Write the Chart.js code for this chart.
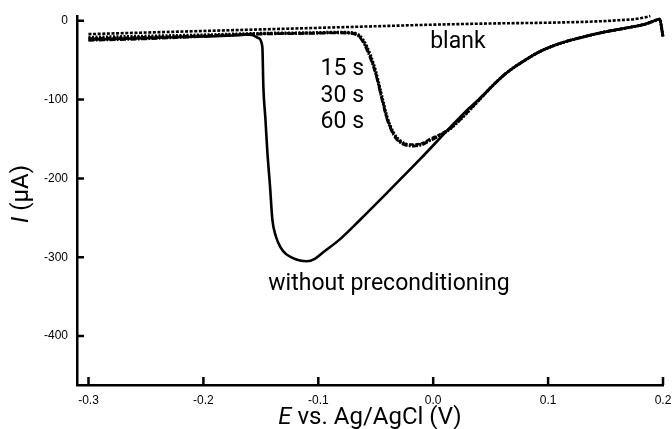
<!DOCTYPE html>
<html>
<head>
<meta charset="utf-8">
<script src="https://cdn.jsdelivr.net/npm/chart.js@4.4.0/dist/chart.umd.min.js"></script>
<style>
  html, body { margin: 0; padding: 0; background: #fff; }
</style>
</head>
<body>
<canvas id="cv" width="672" height="429"></canvas>
<script>
// potential (V) and current (uA)
const noPreE = [-0.300, -0.250, -0.200, -0.170, -0.162, -0.157, -0.152, -0.1487, -0.1478, -0.146, -0.1443, -0.142, -0.140, -0.137, -0.133, -0.128, -0.122, -0.116, -0.110, -0.103, -0.096, -0.081, -0.064, -0.040, -0.011, 0.015, 0.029, 0.041, 0.052, 0.064, 0.080, 0.093, 0.110, 0.128, 0.150, 0.169, 0.185, 0.191, 0.197, 0.200];
const noPreI = [-24, -22, -20, -18.5, -17.5, -18.5, -22, -33, -84, -125, -167, -210, -252, -273, -287, -296, -301, -304, -305, -302, -294, -277, -253, -218, -175, -135, -114, -98, -82, -66, -50, -39, -29, -21.5, -14, -9, -4, -1, 2, -20];

const preE = [-0.300, -0.250, -0.200, -0.150, -0.100, -0.085, -0.072, -0.064, -0.0577, -0.0504, -0.0446, -0.0403, -0.0345, -0.0258, -0.0171, -0.0090, -0.0026, 0.006, 0.0148, 0.0293, 0.041, 0.052, 0.064, 0.080, 0.093, 0.110, 0.128, 0.150, 0.169, 0.185, 0.191, 0.197, 0.200];
const pre15I = [-21, -19.5, -18, -16, -15, -14.5, -15, -19, -33, -62, -96, -121, -142, -155, -158, -156, -151, -145, -137, -117, -99, -82, -66, -50, -39, -29, -21.5, -14, -9, -4, -1, 2, -20];
const pre30I = [-22.5, -21, -19, -16.5, -15.5, -15, -15.5, -20, -35, -64, -98, -123, -143, -156, -157, -155, -150, -144, -136, -116, -99, -82, -66, -50, -39, -29, -21.5, -14, -9, -4, -1, 2, -20];
const pre60I = [-25, -23, -20, -17, -16, -15.5, -16, -21, -37, -66, -100, -124, -145, -157, -159, -157, -152, -146, -137, -117, -98, -82, -66, -50, -39, -29, -21.5, -14, -9, -4, -1, 2, -20];

const blankE = [-0.300, -0.250, -0.200, -0.150, -0.100, -0.050, 0.000, 0.050, 0.100, 0.140, 0.160, 0.175, 0.185, 0.189];
const blankI = [-17, -15, -13, -11, -9, -7, -5, -3.5, -2.5, -1, 0.5, 2, 4.5, 6];

const xTicks = [-0.3, -0.2, -0.1, 0.0, 0.1, 0.2];
const yTicks = [0, -100, -200, -300, -400];

// text labels placed in data units (left edge, baseline)
const notes = [
  { text: 'blank', e: -0.0026, i: -34 },
  { text: '15 s', e: -0.098, i: -68.5 },
  { text: '30 s', e: -0.098, i: -102.5 },
  { text: '60 s', e: -0.098, i: -135.5 },
  { text: 'without preconditioning', e: -0.1435, i: -342 }
];

const pts = (xs, ys) => xs.map((x, k) => ({ x: x, y: ys[k] }));
const tickFont = { family: "'Liberation Sans', Arial, sans-serif", size: 12 };
const textFont = "Roboto, 'Open Sans', sans-serif";

const decor = {
  id: 'decor',
  afterDraw(chart) {
    const ctx = chart.ctx;
    const xs = chart.scales.x, ys = chart.scales.y;
    const area = chart.chartArea;
    ctx.save();
    // inward tick marks
    ctx.strokeStyle = '#000';
    ctx.lineWidth = 2.5;
    ctx.beginPath();
    yTicks.forEach(v => {
      const py = ys.getPixelForValue(v);
      ctx.moveTo(area.left, py);
      ctx.lineTo(area.left + 7, py);
    });
    xTicks.forEach(v => {
      const px = xs.getPixelForValue(v);
      ctx.moveTo(px, area.bottom);
      ctx.lineTo(px, area.bottom - 8);
    });
    ctx.stroke();

    ctx.fillStyle = '#000';
    ctx.textBaseline = 'alphabetic';
    // annotations
    ctx.font = '23px ' + textFont;
    ctx.textAlign = 'left';
    notes.forEach(n => {
      ctx.fillText(n.text, xs.getPixelForValue(n.e), ys.getPixelForValue(n.i));
    });

    // x title: italic E + rest
    const cx = (area.left + area.right) / 2;
    ctx.font = 'italic 24px ' + textFont;
    const wE = ctx.measureText('E').width;
    ctx.font = '24px ' + textFont;
    const rest = ' vs. Ag/AgCl (V)';
    const wR = ctx.measureText(rest).width;
    let x0 = cx - (wE + wR) / 2;
    ctx.font = 'italic 24px ' + textFont;
    ctx.fillText('E', x0, 424);
    ctx.font = '24px ' + textFont;
    ctx.fillText(rest, x0 + wE, 424);

    // y title, rotated
    ctx.translate(28, 194);
    ctx.rotate(-Math.PI / 2);
    ctx.font = 'italic 24px ' + textFont;
    const wI = ctx.measureText('I').width;
    ctx.font = '24px ' + textFont;
    const restY = ' (\u03bcA)';
    const wRY = ctx.measureText(restY).width;
    x0 = -(wI + wRY) / 2;
    ctx.font = 'italic 24px ' + textFont;
    ctx.fillText('I', x0, 0);
    ctx.font = '24px ' + textFont;
    ctx.fillText(restY, x0 + wI, 0);
    ctx.restore();
  }
};

const line = (data, dash, width) => ({
  data: data,
  borderColor: '#000',
  borderWidth: width,
  borderDash: dash,
  pointRadius: 0,
  fill: false,
  cubicInterpolationMode: 'monotone',
  clip: false
});

new Chart(document.getElementById('cv'), {
  type: 'line',
  data: {
    datasets: [
      Object.assign(line(pts(noPreE, noPreI), [], 2.6), { label: 'without preconditioning' }),
      Object.assign(line(pts(preE, pre15I), [2, 1.5], 3), { label: '15 s' }),
      Object.assign(line(pts(preE, pre30I), [4, 2], 2.6), { label: '30 s' }),
      Object.assign(line(pts(preE, pre60I), [6, 1.5, 1.5, 1.5], 2.6), { label: '60 s' }),
      Object.assign(line(pts(blankE, blankI), [3, 1.6], 2.6), { label: 'blank' })
    ]
  },
  options: {
    responsive: false,
    devicePixelRatio: 1,
    animation: false,
    layout: { padding: { top: 16, right: 9, left: 0, bottom: 0 } },
    plugins: { legend: { display: false }, tooltip: { enabled: false } },
    scales: {
      x: {
        type: 'linear',
        min: -0.31,
        max: 0.2,
        afterBuildTicks: s => { s.ticks = xTicks.map(v => ({ value: v })); },
        afterFit: s => { s.height = 44; s.paddingLeft = 0; s.paddingRight = 0; },
        grid: { display: true, drawOnChartArea: false, drawTicks: false },
        border: { display: true, color: '#000', width: 2.5 },
        ticks: {
          color: '#000',
          font: tickFont,
          padding: 8,
          maxRotation: 0,
          callback: v => v.toFixed(1)
        }
      },
      y: {
        type: 'linear',
        min: -462,
        max: 6,
        afterBuildTicks: s => { s.ticks = yTicks.map(v => ({ value: v })); },
        afterFit: s => { s.width = 77; s.paddingTop = 0; s.paddingBottom = 0; },
        grid: { display: true, drawOnChartArea: false, drawTicks: false },
        border: { display: true, color: '#000', width: 2.5 },
        ticks: {
          color: '#000',
          font: tickFont,
          padding: 9,
          callback: v => String(v)
        }
      }
    }
  },
  plugins: [decor]
});
</script>
</body>
</html>
